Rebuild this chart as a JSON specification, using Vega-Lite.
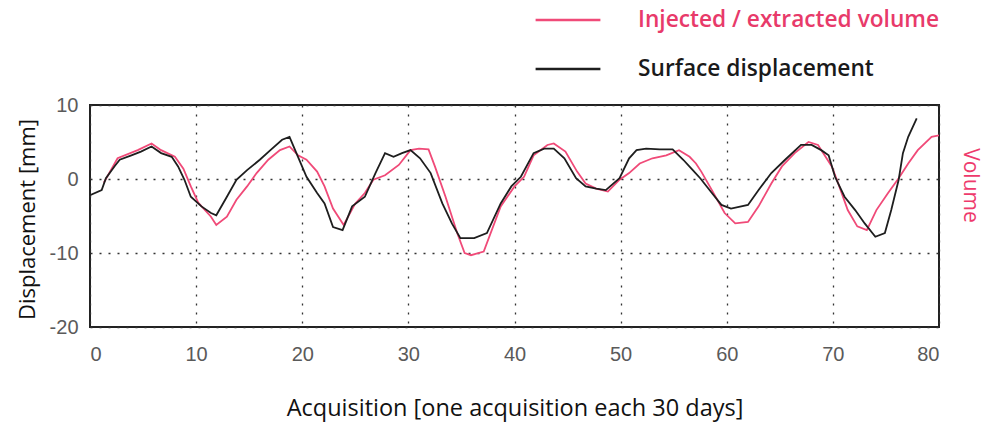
{
  "$schema": "https://vega.github.io/schema/vega-lite/v6.json",
  "autosize": "none",
  "width": 849,
  "height": 222,
  "padding": {"left": 90, "top": 105, "right": 47, "bottom": 97},
  "background": "white",
  "config": {
    "font": "Open Sans",
    "view": {"stroke": "#222", "strokeWidth": 2},
    "axis": {"grid": true, "gridColor": "#333", "gridDash": [2, 7], "gridWidth": 1.3, "domain": false, "ticks": false, "labelFont": "Liberation Sans", "labelFontSize": 20, "labelColor": "#5a5a5a", "titleFont": "Open Sans", "titleFontWeight": "normal", "titleFontSize": 19, "titleColor": "#111"}
  },
  "datasets": {
    "disp": [
      {"x": 0, "y": -2.2}, {"x": 1.1, "y": -1.5}, {"x": 1.5, "y": 0.1}, {"x": 2.3, "y": 1.7}, {"x": 2.8, "y": 2.6}, {"x": 3.9, "y": 3.2}, {"x": 4.8, "y": 3.7}, {"x": 5.8, "y": 4.4}, {"x": 6.7, "y": 3.5}, {"x": 7.7, "y": 3.0}, {"x": 8.3, "y": 1.7}, {"x": 8.9, "y": -0.1}, {"x": 9.5, "y": -2.4}, {"x": 10.5, "y": -3.7}, {"x": 11.4, "y": -4.6}, {"x": 11.9, "y": -4.9}, {"x": 12.9, "y": -2.4}, {"x": 13.8, "y": -0.1}, {"x": 14.8, "y": 1.2}, {"x": 16, "y": 2.6}, {"x": 17, "y": 3.9}, {"x": 18.1, "y": 5.3}, {"x": 18.8, "y": 5.7}, {"x": 19.6, "y": 3.0}, {"x": 20.4, "y": 0.3}, {"x": 21.4, "y": -1.9}, {"x": 22.1, "y": -3.3}, {"x": 22.9, "y": -6.5}, {"x": 23.8, "y": -6.9}, {"x": 24.7, "y": -3.7}, {"x": 25.9, "y": -2.4}, {"x": 26.9, "y": 0.8}, {"x": 27.8, "y": 3.5}, {"x": 28.6, "y": 3.0}, {"x": 29.4, "y": 3.5}, {"x": 30.2, "y": 3.9}, {"x": 31.1, "y": 2.8}, {"x": 32.1, "y": 0.8}, {"x": 33.2, "y": -3.3}, {"x": 34.1, "y": -6.0}, {"x": 34.9, "y": -8.0}, {"x": 36.2, "y": -8.0}, {"x": 37.4, "y": -7.3}, {"x": 38.7, "y": -3.3}, {"x": 39.7, "y": -1.0}, {"x": 40.6, "y": 0.3}, {"x": 41.8, "y": 3.5}, {"x": 42.8, "y": 4.1}, {"x": 43.7, "y": 4.1}, {"x": 44.7, "y": 2.8}, {"x": 45.8, "y": 0.1}, {"x": 46.7, "y": -1.0}, {"x": 47.7, "y": -1.3}, {"x": 48.6, "y": -1.5}, {"x": 49.9, "y": 0.1}, {"x": 50.8, "y": 2.8}, {"x": 51.5, "y": 3.9}, {"x": 52.4, "y": 4.1}, {"x": 53.7, "y": 4.0}, {"x": 54.9, "y": 4.0}, {"x": 55.9, "y": 2.6}, {"x": 56.8, "y": 1.2}, {"x": 57.5, "y": 0.1}, {"x": 58.6, "y": -1.9}, {"x": 59.5, "y": -3.5}, {"x": 60.4, "y": -4.0}, {"x": 62, "y": -3.5}, {"x": 63, "y": -1.5}, {"x": 64.2, "y": 0.8}, {"x": 65.5, "y": 2.6}, {"x": 67, "y": 4.6}, {"x": 68, "y": 4.6}, {"x": 68.9, "y": 3.9}, {"x": 69.6, "y": 3.2}, {"x": 70.2, "y": 0.3}, {"x": 71.1, "y": -2.4}, {"x": 72.1, "y": -4.2}, {"x": 73, "y": -6.0}, {"x": 74, "y": -7.8}, {"x": 74.9, "y": -7.3}, {"x": 75.5, "y": -4.2}, {"x": 76.2, "y": -0.1}, {"x": 76.6, "y": 3.5}, {"x": 77.1, "y": 5.7}, {"x": 77.9, "y": 8.2}
    ],
    "vol": [
      {"x": 1.3, "y": -0.5}, {"x": 2.6, "y": 2.8}, {"x": 4.5, "y": 3.9}, {"x": 5.8, "y": 4.8}, {"x": 6.7, "y": 3.9}, {"x": 8.0, "y": 3.0}, {"x": 8.8, "y": 1.4}, {"x": 9.5, "y": -1.0}, {"x": 10.2, "y": -3.2}, {"x": 11.4, "y": -5.1}, {"x": 11.9, "y": -6.2}, {"x": 12.9, "y": -5.1}, {"x": 13.8, "y": -2.8}, {"x": 14.8, "y": -1.0}, {"x": 15.7, "y": 0.8}, {"x": 16.8, "y": 2.6}, {"x": 17.9, "y": 3.9}, {"x": 18.8, "y": 4.4}, {"x": 19.6, "y": 3.2}, {"x": 20.4, "y": 2.6}, {"x": 21.4, "y": 1.0}, {"x": 22.1, "y": -1.0}, {"x": 22.9, "y": -4.0}, {"x": 23.9, "y": -6.2}, {"x": 25, "y": -3.3}, {"x": 25.9, "y": -1.9}, {"x": 26.7, "y": -0.1}, {"x": 27.8, "y": 0.5}, {"x": 29.1, "y": 1.9}, {"x": 30.2, "y": 3.9}, {"x": 31, "y": 4.1}, {"x": 31.9, "y": 4.0}, {"x": 32.5, "y": 1.7}, {"x": 33.5, "y": -2.4}, {"x": 34.6, "y": -7.3}, {"x": 35.3, "y": -10.0}, {"x": 35.9, "y": -10.3}, {"x": 37.1, "y": -9.8}, {"x": 38.7, "y": -3.7}, {"x": 40, "y": -1.0}, {"x": 40.9, "y": 0.3}, {"x": 41.8, "y": 3.2}, {"x": 43.1, "y": 4.6}, {"x": 43.7, "y": 4.8}, {"x": 44.8, "y": 3.7}, {"x": 45.9, "y": 1.0}, {"x": 46.7, "y": -0.6}, {"x": 47.7, "y": -1.3}, {"x": 48.8, "y": -1.7}, {"x": 49.9, "y": -0.1}, {"x": 50.8, "y": 0.8}, {"x": 51.8, "y": 2.1}, {"x": 53, "y": 2.8}, {"x": 54.3, "y": 3.2}, {"x": 55.5, "y": 3.9}, {"x": 56.5, "y": 3.0}, {"x": 57.1, "y": 2.1}, {"x": 57.6, "y": 1.0}, {"x": 58.6, "y": -1.5}, {"x": 59.8, "y": -4.6}, {"x": 60.8, "y": -6.0}, {"x": 62, "y": -5.8}, {"x": 63, "y": -3.7}, {"x": 64.2, "y": -0.6}, {"x": 65.2, "y": 1.7}, {"x": 66.4, "y": 3.5}, {"x": 67.7, "y": 5.0}, {"x": 68.6, "y": 4.6}, {"x": 69.9, "y": 1.7}, {"x": 70.5, "y": -0.6}, {"x": 71.4, "y": -4.2}, {"x": 72.3, "y": -6.4}, {"x": 73.2, "y": -6.9}, {"x": 74.1, "y": -4.2}, {"x": 75.2, "y": -1.9}, {"x": 76.2, "y": 0.1}, {"x": 77.1, "y": 2.1}, {"x": 78, "y": 3.9}, {"x": 79.3, "y": 5.7}, {"x": 80, "y": 5.9}
    ]
  },
  "layer": [
    {
      "data": {"name": "vol"},
      "transform": [{"calculate": "'Injected / extracted volume'", "as": "series"}],
      "mark": {"type": "line", "strokeWidth": 1.8, "clip": true},
      "encoding": {
        "x": {"field": "x", "type": "quantitative", "scale": {"domain": [0, 80], "nice": false}, "axis": {"values": [0, 10, 20, 30, 40, 50, 60, 70, 80], "title": "Acquisition [one acquisition each 30 days]", "titleFontSize": 23.5, "titlePadding": 32, "labelPadding": 17, "format": "d"}},
        "y": {"field": "y", "type": "quantitative", "scale": {"domain": [-20, 10], "nice": false}, "axis": {"orient": "right", "grid": false, "labels": false, "title": "Volume", "titleColor": "#ee3a6c", "titleFontSize": 21, "titlePadding": 20, "titleY": 80}},
        "color": {"field": "series", "type": "nominal", "scale": {"domain": ["Injected / extracted volume", "Surface displacement"], "range": ["#f04a78", "#1e1e1e"]},
          "legend": {"orient": "none", "legendX": 444, "legendY": -119, "title": null, "symbolType": "stroke", "symbolSize": 4200, "symbolStrokeWidth": 2.5, "labelFontSize": 22.7, "labelFontWeight": 600, "labelFont": "Open Sans", "labelOffset": 36, "labelLimit": 0, "rowPadding": 3, "labelColor": {"expr": "datum.label == 'Surface displacement' ? '#1a1a1a' : '#e83a6a'"}}}
      }
    },
    {
      "data": {"name": "disp"},
      "transform": [{"calculate": "'Surface displacement'", "as": "series"}],
      "mark": {"type": "line", "strokeWidth": 1.8, "clip": true},
      "encoding": {
        "x": {"field": "x", "type": "quantitative", "scale": {"domain": [0, 80], "nice": false}},
        "y": {"field": "y", "type": "quantitative", "scale": {"domain": [-20, 10], "nice": false}, "axis": {"values": [-20, -10, 0, 10], "grid": true, "title": "Displacement [mm]", "titleFontSize": 22, "titlePadding": 10, "titleY": 114, "labelPadding": 12, "labelExpr": "datum.value < 0 ? '-' + abs(datum.value) : '' + datum.value"}},
        "color": {"field": "series", "type": "nominal"}
      }
    }
  ],
  "resolve": {"scale": {"y": "independent"}}
}
